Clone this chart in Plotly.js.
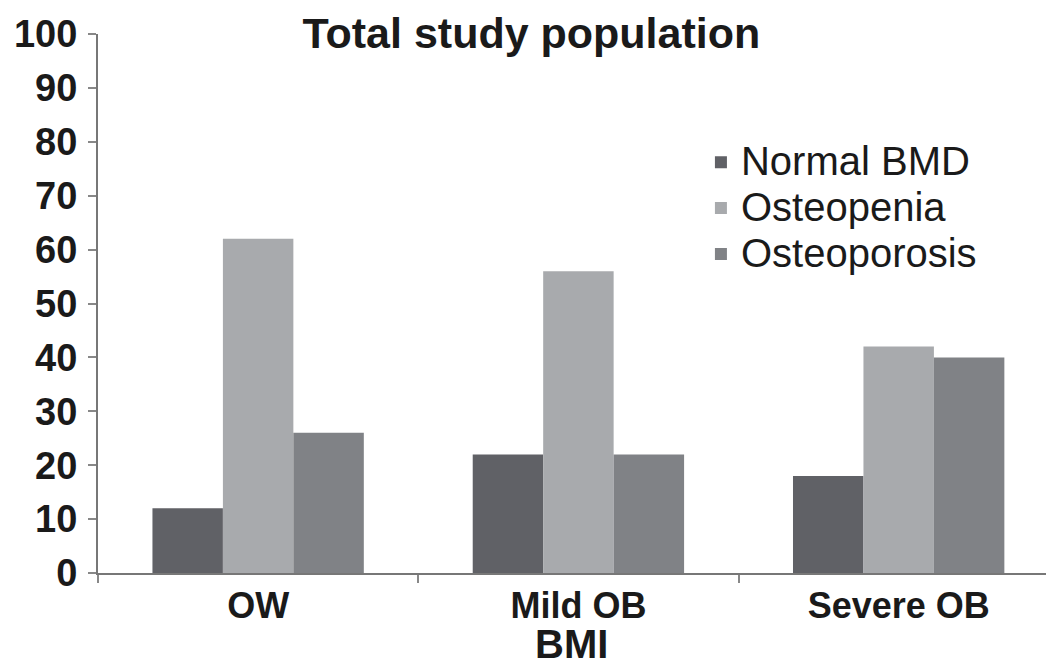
<!DOCTYPE html>
<html>
<head>
<meta charset="utf-8">
<script src="https://cdn.plot.ly/plotly-3.0.1.min.js"></script>
<style>html,body{margin:0;padding:0;background:#fff;}#chart{width:1046px;height:668px;}</style>
</head>
<body>
<div id="chart"></div>
<script>
var categories = ["OW", "Mild OB", "Severe OB"];
var normalBMD = [12, 22, 18];
var osteopenia = [62, 56, 42];
var osteoporosis = [26, 22, 40];
var seriesNames = ["Normal BMD", "Osteopenia", "Osteoporosis"];
var yTicks = [0, 10, 20, 30, 40, 50, 60, 70, 80, 90, 100];
var xAxisTitle = "BMI";

var colors = ["#606166", "#a8aaad", "#808286"];
var values = [normalBMD, osteopenia, osteoporosis];

var traces = values.map(function (v, i) {
  return {
    type: "bar",
    x: categories,
    y: v,
    name: '<span style="font-size:40px">' + seriesNames[i] + '</span>',
    legendgroup: "g" + i,
    marker: { color: colors[i], line: { width: 0 } },
    hoverinfo: "x+y"
  };
});

var layout = {
  width: 1046,
  height: 668,
  margin: { l: 98, r: 0, t: 34, b: 95 },
  paper_bgcolor: "#ffffff",
  plot_bgcolor: "#ffffff",
  font: { family: "Liberation Sans, Arial, sans-serif", color: "#1a1a1a" },
  title: {
    text: "<b>Total study population</b>",
    font: { size: 43, color: "#1a1a1a" },
    x: 0.508, xanchor: "center",
    y: 0.951, yanchor: "middle"
  },
  barmode: "group",
  bargap: 0.34,
  bargroupgap: 0,
  showlegend: true,
  legend: {
    x: 0.636, xanchor: "left",
    y: 0.814, yanchor: "top",
    font: { size: 33, color: "#1a1a1a" },
    bgcolor: "rgba(0,0,0,0)",
    traceorder: "grouped",
    tracegroupgap: 0,
    itemwidth: 30
  },
  annotations: [{
    text: "<b>" + xAxisTitle + "</b>",
    xref: "paper", yref: "paper",
    x: 0.499, xanchor: "center",
    y: -0.131, yanchor: "middle",
    showarrow: false,
    borderpad: 0,
    font: { size: 40, color: "#1a1a1a" }
  }],
  xaxis: {
    type: "category",
    range: [-0.5, 2.46],
    showline: true,
    linecolor: "#777777",
    linewidth: 2,
    ticks: "outside",
    tickson: "boundaries",
    ticklen: 8,
    tickwidth: 2,
    tickcolor: "#888888",
    showgrid: false,
    tickfont: { size: 36, color: "#1a1a1a" },
    tickvals: categories,
    ticktext: categories.map(function (c) { return "<b>" + c + "</b>"; }),
    ticklabelstandoff: 0,
    fixedrange: true
  },
  yaxis: {
    range: [0, 100],
    tickvals: yTicks,
    ticktext: yTicks.map(function (t) { return "<b>" + t + "</b>"; }),
    showline: true,
    linecolor: "#777777",
    linewidth: 2,
    ticks: "outside",
    ticklen: 8,
    tickwidth: 2,
    tickcolor: "#888888",
    showgrid: false,
    zeroline: false,
    tickfont: { size: 38, color: "#1a1a1a" },
    ticklabelstandoff: 3,
    fixedrange: true
  }
};

Plotly.newPlot("chart", traces, layout, { displayModeBar: false, staticPlot: true });
</script>
</body>
</html>
